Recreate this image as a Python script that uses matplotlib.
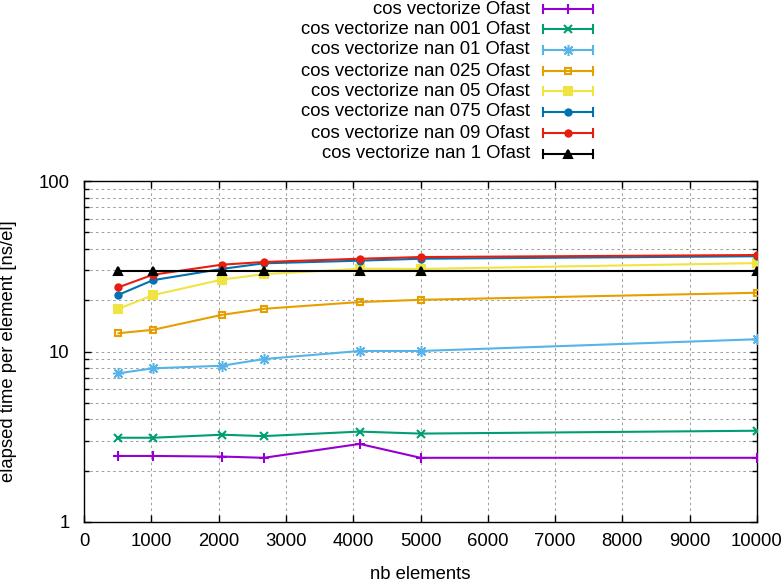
import matplotlib
matplotlib.use("Agg")
import matplotlib.pyplot as plt
from matplotlib.lines import Line2D
from matplotlib.ticker import LogLocator, NullFormatter, FixedLocator, MultipleLocator

plt.rcParams['font.family'] = ['Liberation Sans', 'DejaVu Sans']
plt.rcParams['font.size'] = 13.3

# données
nb_elements = [512, 1024, 2048, 2672, 4096, 5000, 10000]
series_names = [
    "cos vectorize Ofast",
    "cos vectorize nan 001 Ofast",
    "cos vectorize nan 01 Ofast",
    "cos vectorize nan 025 Ofast",
    "cos vectorize nan 05 Ofast",
    "cos vectorize nan 075 Ofast",
    "cos vectorize nan 09 Ofast",
    "cos vectorize nan 1 Ofast",
]
t_nan_0 = [2.44, 2.44, 2.42, 2.38, 2.87, 2.38, 2.38]
t_nan_001 = [3.12, 3.12, 3.25, 3.19, 3.39, 3.30, 3.43]
t_nan_01 = [7.45, 7.97, 8.25, 9.03, 10.07, 10.07, 11.8]
t_nan_025 = [12.8, 13.4, 16.4, 17.8, 19.5, 20.1, 22.1]
t_nan_05 = [17.8, 21.4, 26.4, 28.4, 30.6, 30.5, 33.0]
t_nan_075 = [21.5, 26.2, 30.5, 32.9, 34.1, 35.0, 36.2]
t_nan_09 = [23.8, 28.2, 32.3, 33.5, 35.0, 35.8, 36.8]
t_nan_1 = [29.8, 29.8, 29.8, 29.8, 29.8, 29.8, 29.8]
all_times = [t_nan_0, t_nan_001, t_nan_01, t_nan_025, t_nan_05, t_nan_075, t_nan_09, t_nan_1]

colors = ["#9400d3", "#009e73", "#56b4e9", "#e69f00", "#f0e442", "#0072b2", "#e51e10", "#000000"]
# (marker, taille, épaisseur, plein ?) style gnuplot pt 1..8
markers = [("+", 6.5, 1.5, True), ("x", 5.5, 1.5, True), ((8, 2, 0), 8, 1.1, True), ("s", 5, 1.5, False),
           ("s", 5.5, 1.5, True), ("o", 4.5, 1.5, True), ("o", 4.5, 1.5, True), ("^", 6, 1.5, True)]

W, H = 783, 582
fig = plt.figure(figsize=(W / 100, H / 100), dpi=100)
ax = fig.add_axes([84 / W, 60 / H, 673 / W, 341 / H])

for y, c, (m, ms, mew, filled), name in zip(all_times, colors, markers, series_names):
    ax.plot(nb_elements, y, color=c, lw=1.5, marker=m, ms=ms,
            mfc=c if filled else "none", mec=c, mew=mew, label=name, zorder=3)

ax.set_yscale("log")
ax.set_ylim(1, 100)
ax.set_xlim(0, 10000)
ax.xaxis.set_major_locator(MultipleLocator(1000))
ax.yaxis.set_major_locator(FixedLocator([1, 10, 100]))
ax.yaxis.set_minor_locator(LogLocator(base=10, subs=range(2, 10)))
ax.yaxis.set_minor_formatter(NullFormatter())
ax.set_yticklabels(["1", "10", "100"])

gridstyle = dict(color="#a0a0a0", linestyle=(0, (2.5, 3)), linewidth=0.75)
ax.xaxis.grid(True, which="major", **gridstyle)
ax.yaxis.grid(True, which="both", **gridstyle)
ax.set_axisbelow(True)

ax.tick_params(which="both", direction="in", top=True, right=True, width=1, labelsize=13.3)
ax.tick_params(which="major", length=5)
ax.tick_params(which="minor", length=3.5)
ax.tick_params(axis="x", which="major", pad=8)
ax.tick_params(axis="y", which="major", pad=10.5)
for s in ax.spines.values():
    s.set_linewidth(1)

ax.set_xlabel("nb elements", fontsize=13.3)
ax.set_ylabel("elapsed time per element [ns/el]", fontsize=13.3)
ax.xaxis.set_label_coords(0.5, -0.13)
ax.yaxis.set_label_coords(-0.099, 0.5)

# légende façon gnuplot (texte à droite aligné, échantillon avec barres d'erreur)
row_y = [9, 29, 50, 71, 91, 112, 133, 154]
for yy, c, (m, ms, mew, filled), name in zip(row_y, colors, markers, series_names):
    fy = 1 - yy / H
    fig.text(530 / W, fy, name, ha="right", va="center", fontsize=13.3)
    fig.add_artist(Line2D([543 / W, 593 / W], [fy, fy], color=c, lw=1.5, transform=fig.transFigure))
    for xe in (543, 593):
        fig.add_artist(Line2D([xe / W, xe / W], [fy - 4 / H, fy + 4 / H], color=c, lw=1.5,
                              transform=fig.transFigure))
    fig.add_artist(Line2D([568 / W], [fy], color=c, marker=m, ms=ms,
                          mfc=c if filled else "none", mec=c, mew=mew, transform=fig.transFigure))

fig.savefig("out.png", dpi=100)
